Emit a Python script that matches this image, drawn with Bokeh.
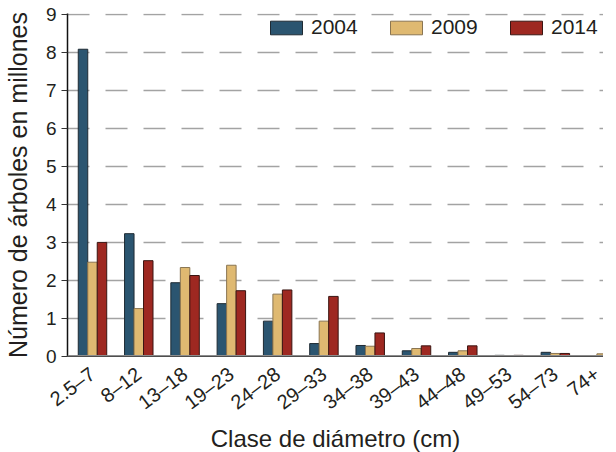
from bokeh.plotting import figure
from bokeh.models import Range1d, FixedTicker, Legend, LegendItem, Span, ColumnDataSource
from bokeh.transform import dodge
from bokeh.embed import file_html
from bokeh.resources import INLINE

categories = ["2.5–7", "8–12", "13–18", "19–23", "24–28", "29–33",
              "34–38", "39–43", "44–48", "49–53", "54–73", "74+"]
years = ["2004", "2009", "2014"]
y2004 = [8.08, 3.23, 1.94, 1.39, 0.93, 0.34, 0.29, 0.15, 0.11, 0.03, 0.11, 0.0]
y2009 = [2.48, 1.26, 2.34, 2.40, 1.64, 0.93, 0.27, 0.21, 0.15, 0.0, 0.08, 0.07]
y2014 = [3.00, 2.52, 2.13, 1.73, 1.75, 1.58, 0.62, 0.28, 0.28, 0.03, 0.08, 0.0]
y_ticks = [0, 1, 2, 3, 4, 5, 6, 7, 8, 9]

fills = ["#2b5570", "#dfb971", "#9e2821"]
lines = ["#1e2a33", "#8a7552", "#3a1512"]
FONT = "Liberation Sans"
TXT = "#231f20"

FH = 343
idx = list(range(len(categories)))
src = ColumnDataSource(dict(x=idx, y2004=y2004, y2009=y2009, y2014=y2014))

p = figure(frame_width=536, frame_height=FH,
           x_range=Range1d(-0.54, 11.04), y_range=Range1d(0, 9.02),
           output_backend="svg", toolbar_location=None,
           min_border_left=64, min_border_top=13, min_border_right=0,
           min_border_bottom=70)
p.outline_line_color = None
p.background_fill_color = "white"

bw = 0.205
renderers = []
for k, (yr, off) in enumerate(zip(years, [-bw, 0.0, bw])):
    r = p.vbar(x=dodge("x", off, range=p.x_range), top="y" + yr, bottom=0,
               width=bw, source=src, fill_color=fills[k],
               line_color=lines[k], line_width=1)
    renderers.append(r)

base = Span(location=0, dimension="width", line_color="#8c8c8c", line_width=3)
p.add_layout(base)

# grid
p.xgrid.grid_line_color = None
p.ygrid.grid_line_color = "#a3a3a3"
p.ygrid.grid_line_width = 1.5
p.ygrid.grid_line_dash = "22 16"
p.ygrid.ticker = FixedTicker(ticks=y_ticks)

# y axis
p.yaxis.ticker = FixedTicker(ticks=y_ticks)
p.yaxis.axis_label = "Número de árboles en millones"
p.yaxis.axis_label_text_font = FONT
p.yaxis.axis_label_text_font_size = "25px"
p.yaxis.axis_label_text_font_style = "normal"
p.yaxis.axis_label_text_color = TXT
p.yaxis.axis_label_standoff = 11
p.yaxis.major_label_text_font = FONT
p.yaxis.major_label_text_font_size = "19px"
p.yaxis.major_label_text_color = TXT
p.yaxis.major_label_standoff = 5
p.yaxis.axis_line_color = "#111111"
p.yaxis.axis_line_width = 1.5
p.yaxis.major_tick_in = 0
p.yaxis.major_tick_out = 6
p.yaxis.major_tick_line_color = "#333333"
p.yaxis.minor_tick_line_color = None

# x axis
p.xaxis.ticker = FixedTicker(ticks=idx)
p.xaxis.major_label_overrides = {i: c for i, c in zip(idx, categories)}
p.xaxis.major_label_orientation = 0.64
p.xaxis.major_label_text_font = FONT
p.xaxis.major_label_text_font_size = "20px"
p.xaxis.major_label_text_color = TXT
p.xaxis.major_label_standoff = 9
p.xaxis.major_tick_line_color = None
p.xaxis.minor_tick_line_color = None
p.xaxis.axis_line_color = "#111111"
p.xaxis.axis_line_width = 1
p.xaxis.axis_label = "Clase de diámetro (cm)"
p.xaxis.axis_label_text_font = FONT
p.xaxis.axis_label_text_font_size = "24px"
p.xaxis.axis_label_text_font_style = "normal"
p.xaxis.axis_label_text_color = TXT
p.xaxis.axis_label_standoff = 0

legend = Legend(items=[LegendItem(label=yr, renderers=[r]) for yr, r in zip(years, renderers)],
                orientation="horizontal", location=(199, FH - 26),
                glyph_width=40, glyph_height=17, label_height=17, label_width=49,
                label_standoff=5, spacing=26, padding=0, margin=0,
                border_line_color=None, background_fill_alpha=0,
                label_text_font=FONT, label_text_font_size="21px",
                label_text_color=TXT)
p.add_layout(legend)

open("out.html", "w").write(file_html(p, INLINE))
